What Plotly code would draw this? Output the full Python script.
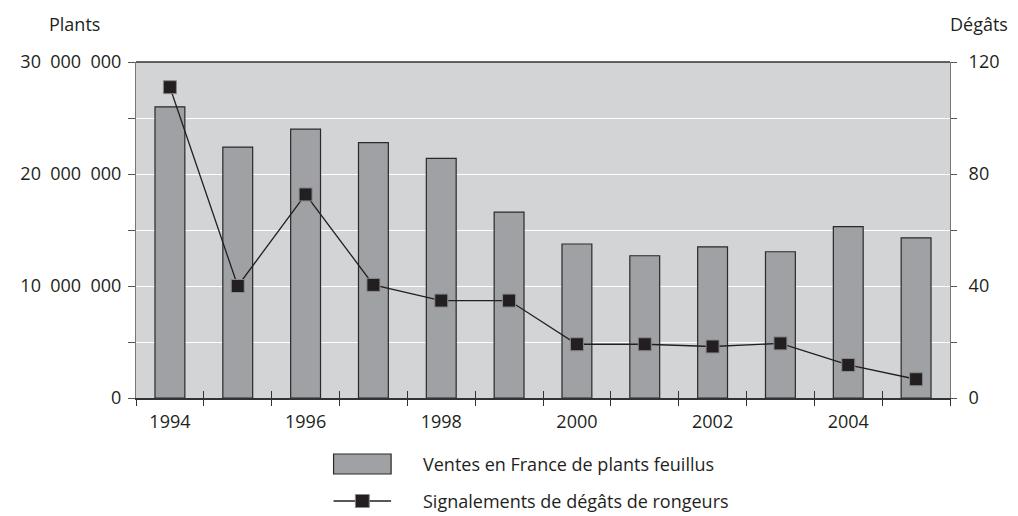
import plotly.graph_objects as go

years = [1994, 1995, 1996, 1997, 1998, 1999, 2000, 2001, 2002, 2003, 2004, 2005]
ventes = [26.0e6, 22.4e6, 24.0e6, 22.8e6, 21.4e6, 16.6e6, 13.75e6, 12.7e6, 13.5e6, 13.06e6, 15.3e6, 14.3e6]
degats = [111, 40, 72.7, 40.4, 34.8, 34.8, 19.2, 19.2, 18.4, 19.5, 11.8, 6.7]

NB = "\u00a0\u00a0"
left_ticks = [0, 5e6, 10e6, 15e6, 20e6, 25e6, 30e6]
left_text = ["0", "", f"10{NB}000{NB}000", "", f"20{NB}000{NB}000", "", f"30{NB}000{NB}000"]
right_ticks = [0, 20, 40, 60, 80, 100, 120]
right_text = ["0", "", "40", "", "80", "", "120"]
year_ticks = [1994, 1996, 1998, 2000, 2002, 2004]
year_text = [str(y) for y in year_ticks]
bound_ticks = [y - 0.5 for y in years] + [years[-1] + 0.5]

name_bar = "Ventes en France de plants feuillus"
name_line = "Signalements de dégâts de rongeurs"

INK = "#231f20"
FONT = "Open Sans"
FS = 18

fig = go.Figure()
fig.add_trace(go.Bar(
    x=years, y=ventes, name=name_bar, width=0.44,
    marker=dict(color="#a0a1a5", line=dict(color="#2a2a2a", width=1.2)),
    xaxis="x", yaxis="y", showlegend=False))
fig.add_trace(go.Scatter(
    x=years, y=degats, name=name_line, mode="lines+markers",
    line=dict(color=INK, width=1.3),
    marker=dict(symbol="square", size=13, color=INK, line=dict(color="#8a8a8a", width=1)),
    xaxis="x", yaxis="y2", showlegend=False))
# helper trace so the overlay tick axis exists
fig.add_trace(go.Scatter(x=[years[0]], y=[0], mode="markers", marker=dict(opacity=0),
                         xaxis="x2", yaxis="y", showlegend=False, hoverinfo="skip"))

rng = [years[0] - 0.5, years[-1] + 0.5]
fig.update_layout(
    width=1010, height=508,
    margin=dict(l=122, r=68, t=54, b=118),
    paper_bgcolor="white", plot_bgcolor="#d3d4d6",
    font=dict(family=FONT, size=FS, color=INK),
    xaxis=dict(range=rng, tickmode="array", tickvals=year_ticks, ticktext=year_text,
               ticks="", showgrid=False, zeroline=False,
               showline=True, linecolor="#333333", linewidth=2,
               minor=dict(tickmode="array", tickvals=bound_ticks, ticks="outside",
                          ticklen=6, tickcolor="#333333", tickwidth=1, showgrid=False),
               tickfont=dict(size=FS), ticklabelstandoff=6),
    xaxis2=dict(range=rng, overlaying="x", anchor="y", side="bottom",
                tickmode="array", tickvals=bound_ticks, ticks="inside", ticklen=7,
                tickcolor="#333333", tickwidth=1, showticklabels=False,
                showgrid=False, zeroline=False, showline=False),
    yaxis=dict(range=[0, 30e6], tickmode="array", tickvals=left_ticks, ticktext=left_text,
               ticks="outside", ticklen=7, tickcolor="#555555",
               showgrid=True, gridcolor="white", gridwidth=1.2, zeroline=False,
               showline=True, linecolor="#777777", linewidth=1,
               tickfont=dict(size=FS), ticklabelstandoff=3),
    yaxis2=dict(range=[0, 120], overlaying="y", side="right", anchor="x",
                tickmode="array", tickvals=right_ticks, ticktext=right_text,
                ticks="outside", ticklen=6, tickcolor="#555555",
                showgrid=False, zeroline=False,
                showline=True, linecolor="#777777", linewidth=1,
                tickfont=dict(size=FS), ticklabelstandoff=8),
    showlegend=False,
)

# top border
fig.add_shape(type="line", xref="paper", yref="paper", x0=0, x1=1, y0=1, y1=1,
              line=dict(color="#333333", width=1.5))

# axis titles
fig.add_annotation(text="Plants", xref="paper", yref="paper", x=-0.075, y=1.113,
                   showarrow=False, font=dict(size=FS), xanchor="center", yanchor="middle")
fig.add_annotation(text="Dégâts", xref="paper", yref="paper", x=1.0732, y=1.113,
                   showarrow=False, font=dict(size=FS), xanchor="right", yanchor="middle")

# custom legend
fig.add_shape(type="rect", xref="paper", yref="paper", x0=0.2427, x1=0.3134, y0=-0.2262, y1=-0.1667,
              fillcolor="#a0a1a5", line=dict(color="#2a2a2a", width=1.2))
fig.add_shape(type="line", xref="paper", yref="paper", x0=0.2427, x1=0.3134, y0=-0.3065, y1=-0.3065,
              line=dict(color=INK, width=1.3))
fig.add_shape(type="rect", xref="paper", yref="paper", x0=0.2695, x1=0.2866, y0=-0.3259, y1=-0.2872,
              fillcolor=INK, line=dict(color="#8a8a8a", width=1))
fig.add_annotation(text=name_bar, xref="paper", yref="paper", x=0.35, y=-0.1964,
                   showarrow=False, xanchor="left", yanchor="middle", font=dict(size=FS))
fig.add_annotation(text=name_line, xref="paper", yref="paper", x=0.35, y=-0.3065,
                   showarrow=False, xanchor="left", yanchor="middle", font=dict(size=FS))

fig.write_html("out.html")
